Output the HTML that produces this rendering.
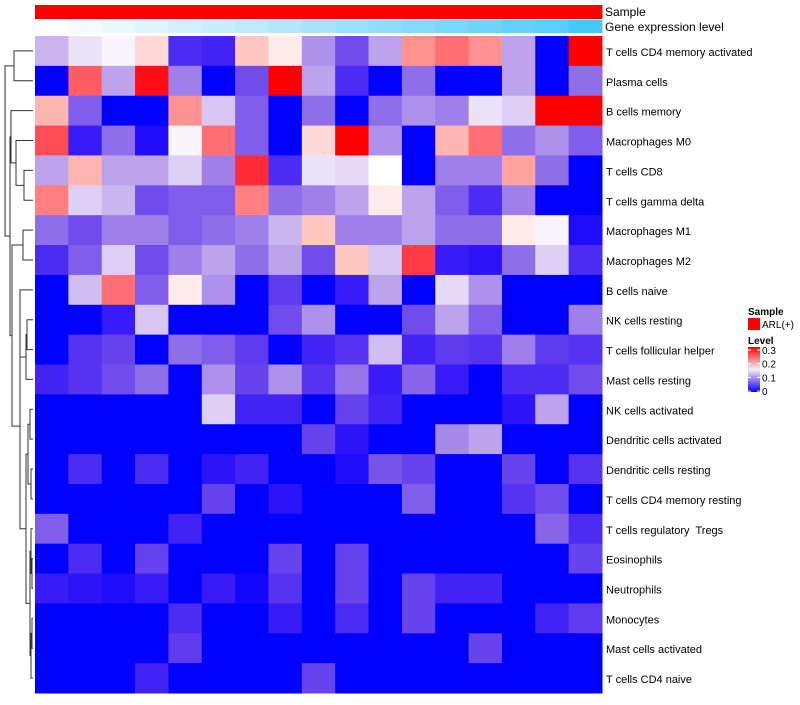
<!DOCTYPE html>
<html><head><meta charset="utf-8"><style>
body{margin:0;background:#fff;font-family:"Liberation Sans",sans-serif}
svg text{font-family:"Liberation Sans",sans-serif;white-space:pre}
</style></head><body>
<svg id="c" width="800" height="700" xmlns="http://www.w3.org/2000/svg"></svg>
<script>
const rowLabels=["T cells CD4 memory activated","Plasma cells","B cells memory","Macrophages M0","T cells CD8","T cells gamma delta","Macrophages M1","Macrophages M2","B cells naive","NK cells resting","T cells follicular helper","Mast cells resting","NK cells activated","Dendritic cells activated","Dendritic cells resting","T cells CD4 memory resting","T cells regulatory  Tregs","Eosinophils","Neutrophils","Monocytes","Mast cells activated","T cells CD4 naive"];
const r1=[.11,.135,.145,.17,.03,.025,.18,.16,.09,.05,.1,.21,.23,.21,.1,0,.3];
const r2=[0,.24,.1,.29,.08,0,.05,.3,.1,.03,0,.07,0,0,.1,0,.07];
const r3=[.19,.06,0,0,.21,.12,.06,0,.07,0,.07,.09,.08,.135,.125,.3,.3];
const r4=[.25,.02,.07,.01,.145,.23,.06,0,.17,.3,.09,0,.19,.23,.07,.09,.06];
const r5=[.1,.19,.1,.1,.125,.08,.27,.03,.135,.13,.15,0,.08,.08,.2,.07,0];
const r6=[.22,.125,.11,.05,.06,.06,.22,.07,.08,.1,.16,.1,.06,.03,.08,0,0];
const r7=[.07,.05,.08,.08,.06,.07,.08,.11,.18,.08,.08,.1,.07,.07,.16,.145,.01];
const r8=[.03,.06,.125,.05,.08,.1,.07,.1,.05,.18,.12,.26,.02,.015,.07,.125,.03];
const r9=[0,.115,.23,.06,.16,.09,0,.04,0,.02,.1,0,.13,.09,0,0,0];
const r10=[0,0,.02,.12,0,0,0,.05,.09,0,0,.05,.1,.06,0,0,.08];
const r11=[0,.035,.045,0,.07,.06,.04,0,.025,.035,.115,.025,.04,.035,.08,.04,.035];
const r12=[.025,.035,.05,.07,0,.09,.045,.09,.035,.075,.02,.065,.02,0,.03,.03,.05];
const r13=[0,0,0,0,0,.125,.025,.025,0,.045,.025,0,0,0,.015,.1,0];
const r14=[0,0,0,0,0,0,0,0,.045,.015,0,0,.085,.1,0,0,0];
const r15=[0,.03,0,.03,0,.015,.025,0,0,.01,.055,.045,0,0,.045,0,.035];
const r16=[0,0,0,0,0,.045,0,.015,0,0,0,.06,0,0,.035,.05,0];
const r17=[.06,0,0,0,.025,0,0,0,0,0,0,0,0,0,0,.065,.03];
const r18=[0,.03,0,.045,0,0,0,.045,0,.045,0,0,0,0,0,0,.045];
const r19=[.02,.015,.01,.02,0,.02,.005,.035,0,.045,0,.045,.025,.025,0,0,0];
const r20=[0,0,0,0,.03,0,0,.02,0,.03,0,.045,0,0,0,.025,.04];
const r21=[0,0,0,0,.04,0,0,0,0,0,0,0,0,.045,0,0,0];
const r22=[0,0,0,.025,0,0,0,0,.045,0,0,0,0,0,0,0,0];
const values=[r1,r2,r3,r4,r5,r6,r7,r8,r9,r10,r11,r12,r13,r14,r15,r16,r17,r18,r19,r20,r21,r22];
const geneLevel=[0,0.06,0.12,0.18,0.24,0.3,0.36,0.42,0.48,0.54,0.6,0.66,0.72,0.78,0.84,0.9,1];

const svg=document.getElementById('c');const NS="http://www.w3.org/2000/svg";
function mk(t,a,p){const e=document.createElementNS(NS,t);for(const k in a)e.setAttribute(k,a[k]);(p||svg).appendChild(e);return e;}
const X0=35,X1=602,Y0=36,Y1=693;
const nC=r1.length,nR=values.length,cw=(X1-X0)/nC,rh=(Y1-Y0)/nR;
const xS=i=>X0+i*cw, yS=j=>Y0+j*rh;
function col(v){let t=Math.max(0,Math.min(.3,v));let r,g,b;
 if(t<.15){const f=t/.15;r=255*Math.pow(f,0.75);g=255*Math.pow(f,1.1);b=255-22*Math.sin(Math.PI*f);}
 else{const f=(t-.15)/.15;r=255;g=255*Math.pow(1-f,1.1);b=255*Math.pow(1-f,0.9)*(1-0.1*Math.sin(Math.PI*f));}
 return `rgb(${r|0},${g|0},${b|0})`;}
for(let i=0;i<nC;i++){
 const s=mk('rect',{x:xS(i),y:5,width:cw+.5,height:14,fill:'#ff0000'});
 
 
 const f=geneLevel[i];
 const g=mk('rect',{x:xS(i),y:20,width:cw+.5,height:13,fill:`rgb(${(255-183*f)|0},${(255-55*f)|0},${(255-7*f)|0})`});
 
 
}
let t=mk('text',{x:605,y:16,'font-size':12});t.textContent='Sample';


t=mk('text',{x:605,y:31,'font-size':12});t.textContent='Gene expression level';


values.forEach((row,j)=>row.forEach((v,i)=>{
 const r=mk('rect',{x:xS(i),y:yS(j),width:cw+.5,height:rh+.5,fill:col(v)});
 
 
}));
rowLabels.forEach((l,j)=>{
 const tx=mk('text',{x:606,y:yS(j)+rh/2+5,'font-size':11});tx.textContent=l;
 
 
});
const L=[...Array(nR).keys()].map(j=>({x:33,y:yS(j)+rh/2}));
function join(a,b,h){const n={x:h,y:(a.y+b.y)/2};
 const p=mk('path',{d:`M${a.x},${a.y}H${h}V${b.y}H${b.x}`,fill:'none',stroke:'#333','stroke-width':1});
 
 return n;}
const A=join(L[0],L[1],14);
const B=join(L[4],L[5],24);const C=join(L[3],B,16);const D=join(L[2],C,11);
const F=join(L[6],L[7],23);
const H=join(L[9],L[10],27);const I=join(L[11],H,26);const J=join(L[8],I,20);
const q1=join(L[12],L[13],30);const q2=join(L[14],L[15],31);const q3=join(q1,q2,28);
const q4=join(L[17],L[18],32);const q5=join(L[16],q4,31);const q6=join(L[19],L[20],32);
const q7=join(q6,L[21],31);const q8=join(q5,q7,30);const R=join(q3,q8,26);
const M=join(J,R,20);const Lx=join(F,M,12);const N=join(D,Lx,10);join(A,N,5);
t=mk('text',{x:748,y:315,'font-size':10,'font-weight':'bold'});t.textContent='Sample';

let lr=mk('rect',{x:748,y:318,width:12,height:12,fill:'#ff0000'});

t=mk('text',{x:762,y:328,'font-size':10});t.textContent='ARL(+)';

t=mk('text',{x:748,y:344,'font-size':10,'font-weight':'bold'});t.textContent='Level';

const defs=mk('defs',{});const lg=mk('linearGradient',{id:'lg',x1:0,y1:0,x2:0,y2:1},defs);
mk('stop',{offset:'0','stop-color':'#ff0000'},lg);mk('stop',{offset:'0.5','stop-color':'#f0f0f8'},lg);mk('stop',{offset:'0.75','stop-color':'#9070f0'},lg);mk('stop',{offset:'1','stop-color':'#0000ff'},lg);
lr=mk('rect',{x:748,y:347,width:12,height:45,fill:'url(#lg)'});

const legTicks=["0.3","0.2","0.1","0"];
legTicks.forEach((s,k)=>{const y=350+k*13.7;
 mk('line',{x1:748,x2:751,y1:y,y2:y,stroke:'#fff'});mk('line',{x1:757,x2:760,y1:y,y2:y,stroke:'#fff'});
 const tx=mk('text',{x:762,y:y+4,'font-size':10});tx.textContent=s;
 });
</script></body></html>
